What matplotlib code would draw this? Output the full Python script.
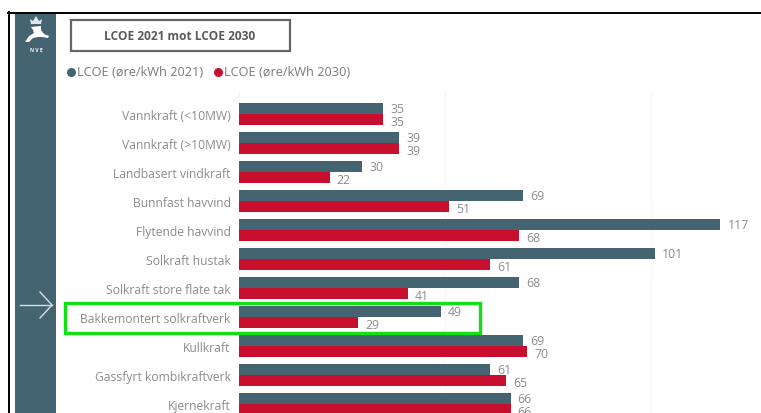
#!/usr/bin/env python3
# -*- coding: utf-8 -*-

import numpy as np
import matplotlib
matplotlib.use('Agg')
import matplotlib.pyplot as plt
from matplotlib.patches import Rectangle, Polygon

categories = ['Vannkraft (<10MW)', 'Vannkraft (>10MW)', 'Landbasert vindkraft',
              'Bunnfast havvind', 'Flytende havvind', 'Solkraft hustak',
              'Solkraft store flate tak', 'Bakkemontert solkraftverk', 'Kullkraft',
              'Gassfyrt kombikraftverk', 'Kjernekraft']
lcoe_2021 = [35, 39, 30, 69, 117, 101, 68, 49, 69, 61, 66]
lcoe_2030 = [35, 39, 22, 51, 68, 61, 41, 29, 70, 65, 66]
gridlines = [0, 50, 100]

TEAL = '#456472'
RED = '#c8102e'
GREY = '#8c8c8c'
W, H = 761, 414

plt.rcParams['font.family'] = ['Open Sans', 'DejaVu Sans']
fig = plt.figure(figsize=(W / 100, H / 100), dpi=100, facecolor='white')

# bakgrunn i pikselkoordinater
bg = fig.add_axes([0, 0, 1, 1])
bg.set_xlim(0, W)
bg.set_ylim(H, 0)
bg.axis('off')
bg.plot([8.5, 8.5], [13, H], color='black', lw=1.4)
bg.plot([8, W], [13.5, 13.5], color='black', lw=1.4)
bg.add_patch(Rectangle((15, 14), 41, H - 14, color=TEAL, lw=0))
bg.add_patch(Rectangle((71, 21), 219, 31, fc='white', ec='#666666', lw=1.6))
bg.text(180, 36.5, 'LCOE 2021 mot LCOE 2030', ha='center', va='center',
        fontsize=8.6, fontweight='bold', color='#5a5a5a')

# NVE-logo, forenklet
bg.add_patch(Polygon([(31, 25), (30, 20), (33, 22), (36, 17), (39, 22), (42, 20), (41, 25)],
                     color='#dfe6e8', lw=0))
bg.add_patch(Polygon([(31, 28), (41, 27), (41, 31), (44, 35), (49, 37), (48, 39), (42, 38),
                      (38, 38), (33, 39), (29, 43), (25, 43), (29, 37), (34, 34), (33, 31)],
                     color='white', lw=0))
bg.text(36, 50, 'N V E', ha='center', va='center', fontsize=3.6, fontweight='bold', color='white')

# pil
bg.plot([20, 52], [306, 306], color='#d5dde0', lw=1)
bg.plot([40, 52, 40], [293, 306, 319], color='#d5dde0', lw=1)

# tegnforklaring
bg.scatter([71], [73], s=42, color=TEAL, lw=0)
bg.text(77, 72.5, 'LCOE (øre/kWh 2021)', va='center', fontsize=9.2, color='#7a7a7a')
bg.scatter([218], [73], s=42, color=RED, lw=0)
bg.text(224, 72.5, 'LCOE (øre/kWh 2030)', va='center', fontsize=9.2, color='#7a7a7a')

# stolpediagram
x0, y_top = 239, 92
px_per_unit = 4.115
pitch = 29
first_center = 115
ax = fig.add_axes([x0 / W, 0, (W - x0) / W, (H - y_top) / H])
ax.patch.set_alpha(0)
ax.set_xlim(0, (W - x0) / px_per_unit)
ax.set_ylim((H - first_center) / pitch, (y_top - first_center) / pitch)
for s in ax.spines.values():
    s.set_visible(False)

ypos = np.arange(len(categories))
bar_h = 11 / pitch
ax.set_axisbelow(True)
ax.set_xticks(gridlines)
ax.set_xticklabels([])
ax.tick_params(axis='x', length=0)
ax.grid(axis='x', color='#f5f5f5', lw=0.8)
ax.barh(ypos - bar_h / 2, lcoe_2021, height=bar_h, color=TEAL)
ax.barh(ypos + bar_h / 2, lcoe_2030, height=bar_h, color=RED)
ax.set_yticks(ypos)
ax.set_yticklabels(categories, fontsize=8.7, color=GREY)
ax.tick_params(axis='y', length=0, pad=6)

for i in ypos:
    ax.annotate(str(lcoe_2021[i]), (lcoe_2021[i], i - bar_h / 2), xytext=(7, 0),
                textcoords='offset pixels', va='center', fontsize=8.8, color=GREY, clip_on=True,
                annotation_clip=True)
    ax.annotate(str(lcoe_2030[i]), (lcoe_2030[i], i + bar_h / 2), xytext=(7, -2),
                textcoords='offset pixels', va='center', fontsize=8.8, color=GREY, clip_on=True,
                annotation_clip=True)

# grønn markering
fg = fig.add_axes([0, 0, 1, 1])
fg.set_xlim(0, W)
fg.set_ylim(H, 0)
fg.axis('off')
fg.add_patch(Rectangle((65, 304), 415, 30, fc='none', ec='#12e012', lw=2.4))

fig.savefig('out.png', dpi=100)
plt.close(fig)
